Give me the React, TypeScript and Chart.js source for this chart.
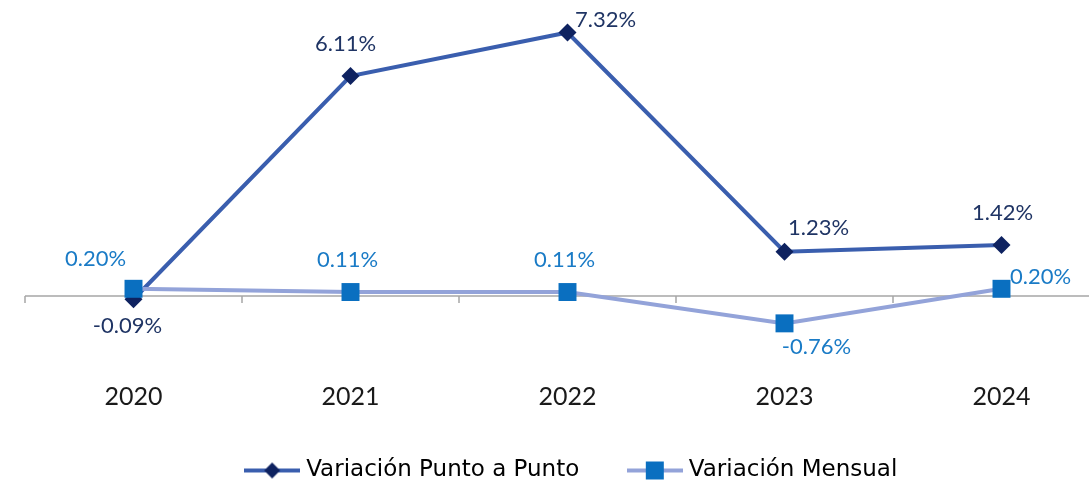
import React, { useEffect, useRef } from "react";
import { Chart, registerables } from "chart.js";

Chart.register(...registerables);

const years = ["2020", "2021", "2022", "2023", "2024"];
const puntoAPunto = [-0.09, 6.11, 7.32, 1.23, 1.42];
const mensual = [0.2, 0.11, 0.11, -0.76, 0.2];
const seriesNames = ["Variación Punto a Punto", "Variación Mensual"];

// label offsets (pixels relative to the point) – styling only
const puntoLabelOffsets = [
  [-6, 27],
  [-5, -32],
  [38, -13],
  [34, -24],
  [1, -32],
];
const mensualLabelOffsets = [
  [-38, -30],
  [-3, -32],
  [-3, -32],
  [32, 24],
  [39, -12],
];

const FONT = "Lato, 'Noto Sans', sans-serif";
const LEGEND_FONT = "'DejaVu Sans', sans-serif";
const C_LINE1 = "#3A5EAE";
const C_MARK1 = "#0E2260";
const C_TEXT1 = "#1F3464";
const C_LINE2 = "#93A3D9";
const C_MARK2 = "#0A6FC0";
const C_TEXT2 = "#1A7BC6";
const C_AXIS = "#A6A6A6";

function makeLegendImage(lineColor: string, markColor: string, shape: "diamond" | "square") {
  const c = document.createElement("canvas");
  c.width = 56;
  c.height = 20;
  const ctx = c.getContext("2d")!;
  ctx.strokeStyle = lineColor;
  ctx.lineWidth = 4;
  ctx.beginPath();
  ctx.moveTo(0, 10);
  ctx.lineTo(56, 10);
  ctx.stroke();
  ctx.fillStyle = markColor;
  if (shape === "diamond") {
    ctx.beginPath();
    ctx.moveTo(28, 2);
    ctx.lineTo(36, 10);
    ctx.lineTo(28, 18);
    ctx.lineTo(20, 10);
    ctx.closePath();
    ctx.fill();
  } else {
    ctx.fillRect(19, 1, 18, 18);
  }
  return c;
}

const axisPlugin = {
  id: "zeroAxis",
  beforeDatasetsDraw(chart: any) {
    const { ctx, chartArea, scales } = chart;
    const y0 = scales.y.getPixelForValue(0);
    const xs = scales.x;
    const n = years.length;
    const step = n > 1 ? xs.getPixelForValue(1) - xs.getPixelForValue(0) : chartArea.width;
    ctx.save();
    ctx.strokeStyle = C_AXIS;
    ctx.lineWidth = 1.5;
    ctx.beginPath();
    ctx.moveTo(chartArea.left, y0);
    ctx.lineTo(chartArea.right, y0);
    for (let i = 0; i <= n; i++) {
      const x = xs.getPixelForValue(0) - step / 2 + i * step;
      ctx.moveTo(x, y0);
      ctx.lineTo(x, y0 + 7);
    }
    ctx.stroke();
    ctx.restore();
  },
};

const labelPlugin = {
  id: "pointLabels",
  afterDatasetsDraw(chart: any) {
    const { ctx } = chart;
    const cfgs = [
      { values: puntoAPunto, offsets: puntoLabelOffsets, color: C_TEXT1 },
      { values: mensual, offsets: mensualLabelOffsets, color: C_TEXT2 },
    ];
    ctx.save();
    ctx.font = `22px ${FONT}`;
    ctx.textAlign = "center";
    ctx.textBaseline = "middle";
    cfgs.forEach((cfg, di) => {
      const meta = chart.getDatasetMeta(di);
      meta.data.forEach((pt: any, i: number) => {
        ctx.fillStyle = cfg.color;
        ctx.fillText(cfg.values[i].toFixed(2) + "%", pt.x + cfg.offsets[i][0], pt.y + cfg.offsets[i][1]);
      });
    });
    ctx.restore();
  },
};

// nudge the legend row slightly to the right
const legendShiftPlugin = {
  id: "legendShift",
  afterLayout(chart: any) {
    const lg = chart.legend;
    if (lg) {
      lg.left += 6;
      lg.right += 6;
    }
  },
};

export default function App() {
  const ref = useRef<HTMLCanvasElement>(null);
  useEffect(() => {
    if (!ref.current) return;
    const img1 = makeLegendImage(C_LINE1, C_MARK1, "diamond");
    const img2 = makeLegendImage(C_LINE2, C_MARK2, "square");
    const chart = new Chart(ref.current, {
      type: "line",
      data: {
        labels: years,
        datasets: [
          {
            label: seriesNames[0],
            data: puntoAPunto,
            borderColor: C_LINE1,
            backgroundColor: C_MARK1,
            borderWidth: 4,
            pointStyle: "rectRot",
            pointRadius: 9,
            pointBorderWidth: 0,
            pointBackgroundColor: C_MARK1,
            pointBorderColor: C_MARK1,
            tension: 0,
            order: 2,
            clip: false as any,
          },
          {
            label: seriesNames[1],
            data: mensual,
            borderColor: C_LINE2,
            backgroundColor: C_MARK2,
            borderWidth: 4,
            pointStyle: "rect",
            pointRadius: 12.7,
            pointBorderWidth: 0,
            pointBackgroundColor: C_MARK2,
            pointBorderColor: C_MARK2,
            tension: 0,
            order: 1,
            clip: false as any,
          },
        ],
      },
      options: {
        animation: false,
        responsive: true,
        maintainAspectRatio: false,
        layout: { autoPadding: false, padding: { left: 25, right: 2, top: 8, bottom: -11 } },
        scales: {
          x: {
            offset: true,
            grid: { display: false, drawTicks: false },
            border: { display: false },
            ticks: { color: "#1A1A1A", font: { family: FONT, size: 25 }, padding: 14 },
            afterFit: (scale: any) => {
              scale.height = 38;
            },
          },
          y: {
            display: false,
            min: -2,
            max: 8,
          },
        },
        plugins: {
          tooltip: { enabled: false },
          legend: {
            position: "bottom",
            fullSize: false,
            onClick: () => {},
            labels: {
              usePointStyle: true,
              pointStyleWidth: 45,
              padding: 53,
              color: "#262626",
              font: { family: LEGEND_FONT, size: 23 },
              generateLabels: () => [
                { text: seriesNames[0], pointStyle: img1 as any, fillStyle: C_MARK1, strokeStyle: C_LINE1, lineWidth: 0, hidden: false, datasetIndex: 0 },
                { text: seriesNames[1], pointStyle: img2 as any, fillStyle: C_MARK2, strokeStyle: C_LINE2, lineWidth: 0, hidden: false, datasetIndex: 1 },
              ],
            },
          },
        },
      },
      plugins: [axisPlugin, labelPlugin, legendShiftPlugin],
    });
    return () => chart.destroy();
  }, []);
  return (
    <div style={{ position: "fixed", left: 0, top: 0, width: 1089, height: 481, overflow: "hidden", background: "#fff" }}>
      <div style={{ position: "relative", width: 1112, height: 481 }}>
        <canvas ref={ref} />
      </div>
    </div>
  );
}
